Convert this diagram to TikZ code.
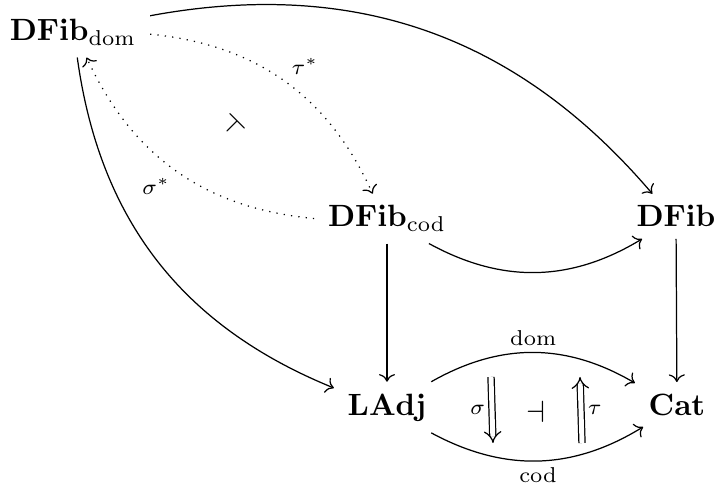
\documentclass[tikz,border=0pt]{standalone}
\usetikzlibrary{cd,arrows.meta}
\begin{document}
\begin{tikzpicture}[x=0.325pt,y=-0.325pt,
  obj/.style={shape=asymmetrical rectangle,inner xsep=1ex,inner ysep=0.85ex,anchor=base},
  ar/.style={-{cm to},line width=0.4pt},
  dar/.style={-{cm to},line width=0.4pt,dotted},
  lab/.style={inner sep=2pt,font=\scriptsize},
  twocell/.style={double,double distance=1.6pt,line width=0.4pt,-{Implies}}]
\useasboundingbox (0,0) rectangle (716,492);
\node[obj] (dom) at (73,41) {$\mathbf{DFib}_{\mathrm{dom}}$};
\node[obj] (cod) at (387,227) {$\mathbf{DFib}_{\mathrm{cod}}$};
\node[obj] (fib) at (676,227) {$\mathbf{DFib}$};
\node[obj] (ladj) at (387,415) {$\mathbf{LAdj}$};
\node[obj] (cat) at (677,415) {$\mathbf{Cat}$};
\draw[ar] (dom) to[bend left=30] (fib);
\draw[ar] (dom) to[bend right=30] (ladj);
\draw[dar] (dom) to[bend left=30] node[lab,above right] {$\tau^*$} (cod);
\draw[dar] (cod) to[bend left=30] node[lab,below left] {$\sigma^*$} (dom);
\node[rotate=45] (adj1) at (233,126) {$\dashv$};
\draw[ar] (cod) to[bend right=30] (fib);
\draw[ar] (cod) -- (ladj);
\draw[ar] (fib) -- (cat);
\draw[ar] (ladj) to[bend left=30] node[lab,above] {$\mathrm{dom}$} (cat);
\draw[ar] (ladj) to[bend right=30] node[lab,below] {$\mathrm{cod}$} (cat);
\coordinate (s1) at (491,377);
\coordinate (s2) at (493,443);
\coordinate (t1) at (582,443);
\coordinate (t2) at (580,377);
\draw[twocell] (s1) -- node[lab,left] {$\sigma$} (s2);
\draw[twocell] (t1) -- node[lab,right] {$\tau$} (t2);
\node (adj2) at (536,412) {$\dashv$};
\end{tikzpicture}
\end{document}
